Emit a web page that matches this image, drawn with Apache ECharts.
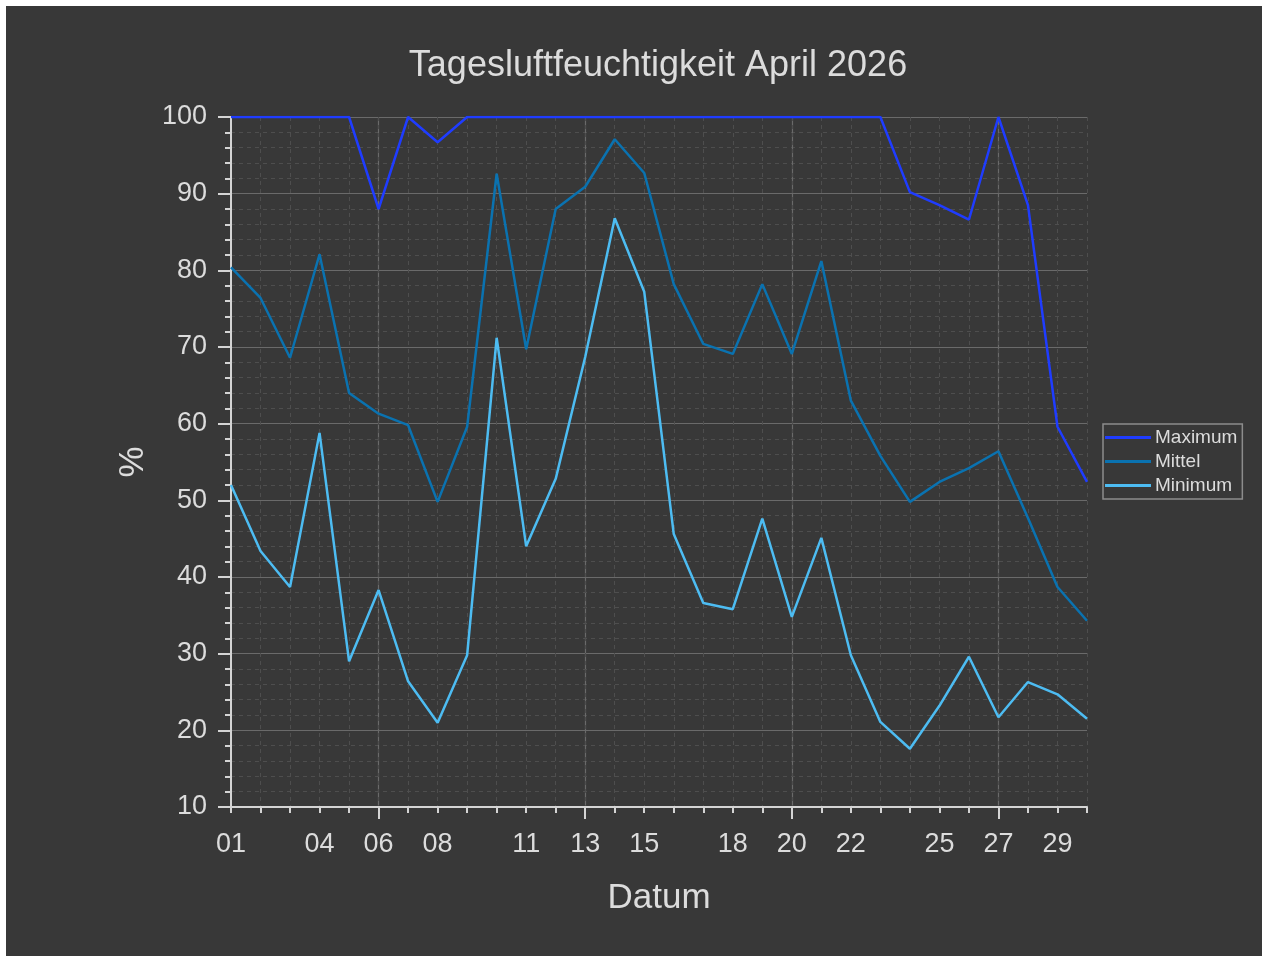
<!DOCTYPE html>
<html>
<head>
<meta charset="utf-8">
<script src="https://cdn.jsdelivr.net/npm/echarts@6/dist/echarts.min.js"></script>
<style>
    html, body { margin: 0; padding: 0; background: #ffffff; }
    #main_chart { position: absolute; left: 6px; top: 6px; width: 1256px; height: 950px; }
</style>
</head>
<body>
<div id="main_chart"></div>
<script>
// days of April
const days = ['01', '02', '03', '04', '05', '06', '07', '08', '09', '10',
    '11', '12', '13', '14', '15', '16', '17', '18', '19', '20',
    '21', '22', '23', '24', '25', '26', '27', '28', '29', '30'];
const shownLabels = ['01', '04', '06', '08', '11', '13', '15', '18', '20', '22', '25', '27', '29'];
const weekDays = ['06', '13', '20', '27'];

const maximum = [100, 100, 100, 100, 100, 88.0, 100, 96.7, 100, 100,
    100, 100, 100, 100, 100, 100, 100, 100, 100, 100,
    100, 100, 100, 90.2, 88.5, 86.6, 100, 88.5, 59.6, 52.4];
const mittel = [80.4, 76.4, 68.6, 82.1, 64.0, 61.3, 59.8, 49.8, 59.6, 92.6,
    69.7, 88.0, 90.9, 97.1, 92.7, 78.2, 70.4, 69.1, 78.2, 69.1,
    81.2, 63.0, 55.8, 49.8, 52.4, 54.2, 56.4, 47.7, 38.7, 34.3];
const minimum = [52.0, 43.4, 38.7, 58.8, 29.0, 38.3, 26.4, 21.0, 29.8, 71.2,
    44.0, 52.8, 68.7, 86.8, 77.2, 45.6, 36.6, 35.8, 47.6, 34.8,
    45.1, 29.8, 21.1, 17.6, 23.2, 29.6, 21.7, 26.3, 24.7, 21.5];

const textColor = '#dcdcdc';
const fontFamily = '"Liberation Sans", Arial, sans-serif';

let myChart = echarts.init(document.getElementById('main_chart'));

let option = {
    backgroundColor: '#383838',
    animation: false,
    textStyle: { fontFamily: fontFamily },
    title: {
        text: 'Tagesluftfeuchtigkeit April 2026',
        left: 647,
        top: 37,
        textAlign: 'center',
        textStyle: { color: textColor, fontSize: 36, fontWeight: 'normal', fontFamily: fontFamily }
    },
    legend: {
        orient: 'vertical',
        left: 1097,
        top: 418,
        padding: [4, 5, 4, 2],
        itemGap: 5,
        itemWidth: 46,
        itemHeight: 3,
        icon: 'rect',
        borderColor: '#8c8c8c',
        borderWidth: 1.5,
        textStyle: { color: textColor, fontSize: 19, lineHeight: 19, padding: [0, 0, 0, -1] },
        data: ['Maximum', 'Mittel', 'Minimum']
    },
    grid: {
        left: 225,
        right: 175,
        top: 111,
        bottom: 149
    },
    xAxis: [{
        type: 'category',
        data: days,
        boundaryGap: false,
        position: 'bottom',
        name: 'Datum',
        nameLocation: 'middle',
        nameGap: 74,
        nameTextStyle: { color: textColor, fontSize: 35 },
        axisLine: { show: true, lineStyle: { color: '#d4d4d4', width: 2 } },
        axisTick: {
            show: true,
            length: 12,
            interval: (idx, value) => weekDays.includes(value),
            lineStyle: { color: '#d4d4d4', width: 2 }
        },
        axisLabel: {
            color: textColor,
            fontSize: 27,
            margin: 24,
            interval: (idx, value) => shownLabels.includes(value)
        },
        splitLine: {
            show: true,
            interval: (idx, value) => weekDays.includes(value),
            lineStyle: { color: '#6a6a6a', width: 1.2 }
        }
    }, {
        type: 'category',
        data: days,
        boundaryGap: false,
        position: 'bottom',
        axisLine: { show: false },
        axisTick: {
            show: true,
            length: 6,
            interval: 0,
            lineStyle: { color: '#d4d4d4', width: 2 }
        },
        axisLabel: { show: false },
        splitLine: {
            show: true,
            interval: 0,
            lineStyle: { color: '#4e4e4e', width: 1, type: [4, 4] }
        }
    }],
    yAxis: {
        type: 'value',
        min: 10,
        max: 100,
        interval: 10,
        name: '%',
        nameLocation: 'middle',
        nameGap: 80,
        nameTextStyle: { color: textColor, fontSize: 35 },
        axisLine: { show: true, lineStyle: { color: '#d4d4d4', width: 2 } },
        axisTick: { show: true, length: 13, lineStyle: { color: '#d4d4d4', width: 2 } },
        minorTick: { show: true, splitNumber: 5, length: 6, lineStyle: { color: '#d4d4d4', width: 2 } },
        axisLabel: { color: textColor, fontSize: 27, margin: 24 },
        splitLine: { show: true, lineStyle: { color: '#6a6a6a', width: 1.2 } },
        minorSplitLine: { show: true, lineStyle: { color: '#4e4e4e', width: 1, type: [4, 4] } }
    },
    series: [{
        name: 'Maximum',
        type: 'line',
        data: maximum,
        symbol: 'none',
        color: '#1f3cff',
        lineStyle: { width: 2.5 }
    }, {
        name: 'Mittel',
        type: 'line',
        data: mittel,
        symbol: 'none',
        color: '#0a72b0',
        lineStyle: { width: 2.5 }
    }, {
        name: 'Minimum',
        type: 'line',
        data: minimum,
        symbol: 'none',
        color: '#4dbcf2',
        lineStyle: { width: 2.5 }
    }]
};

myChart.setOption(option);
</script>
</body>
</html>
